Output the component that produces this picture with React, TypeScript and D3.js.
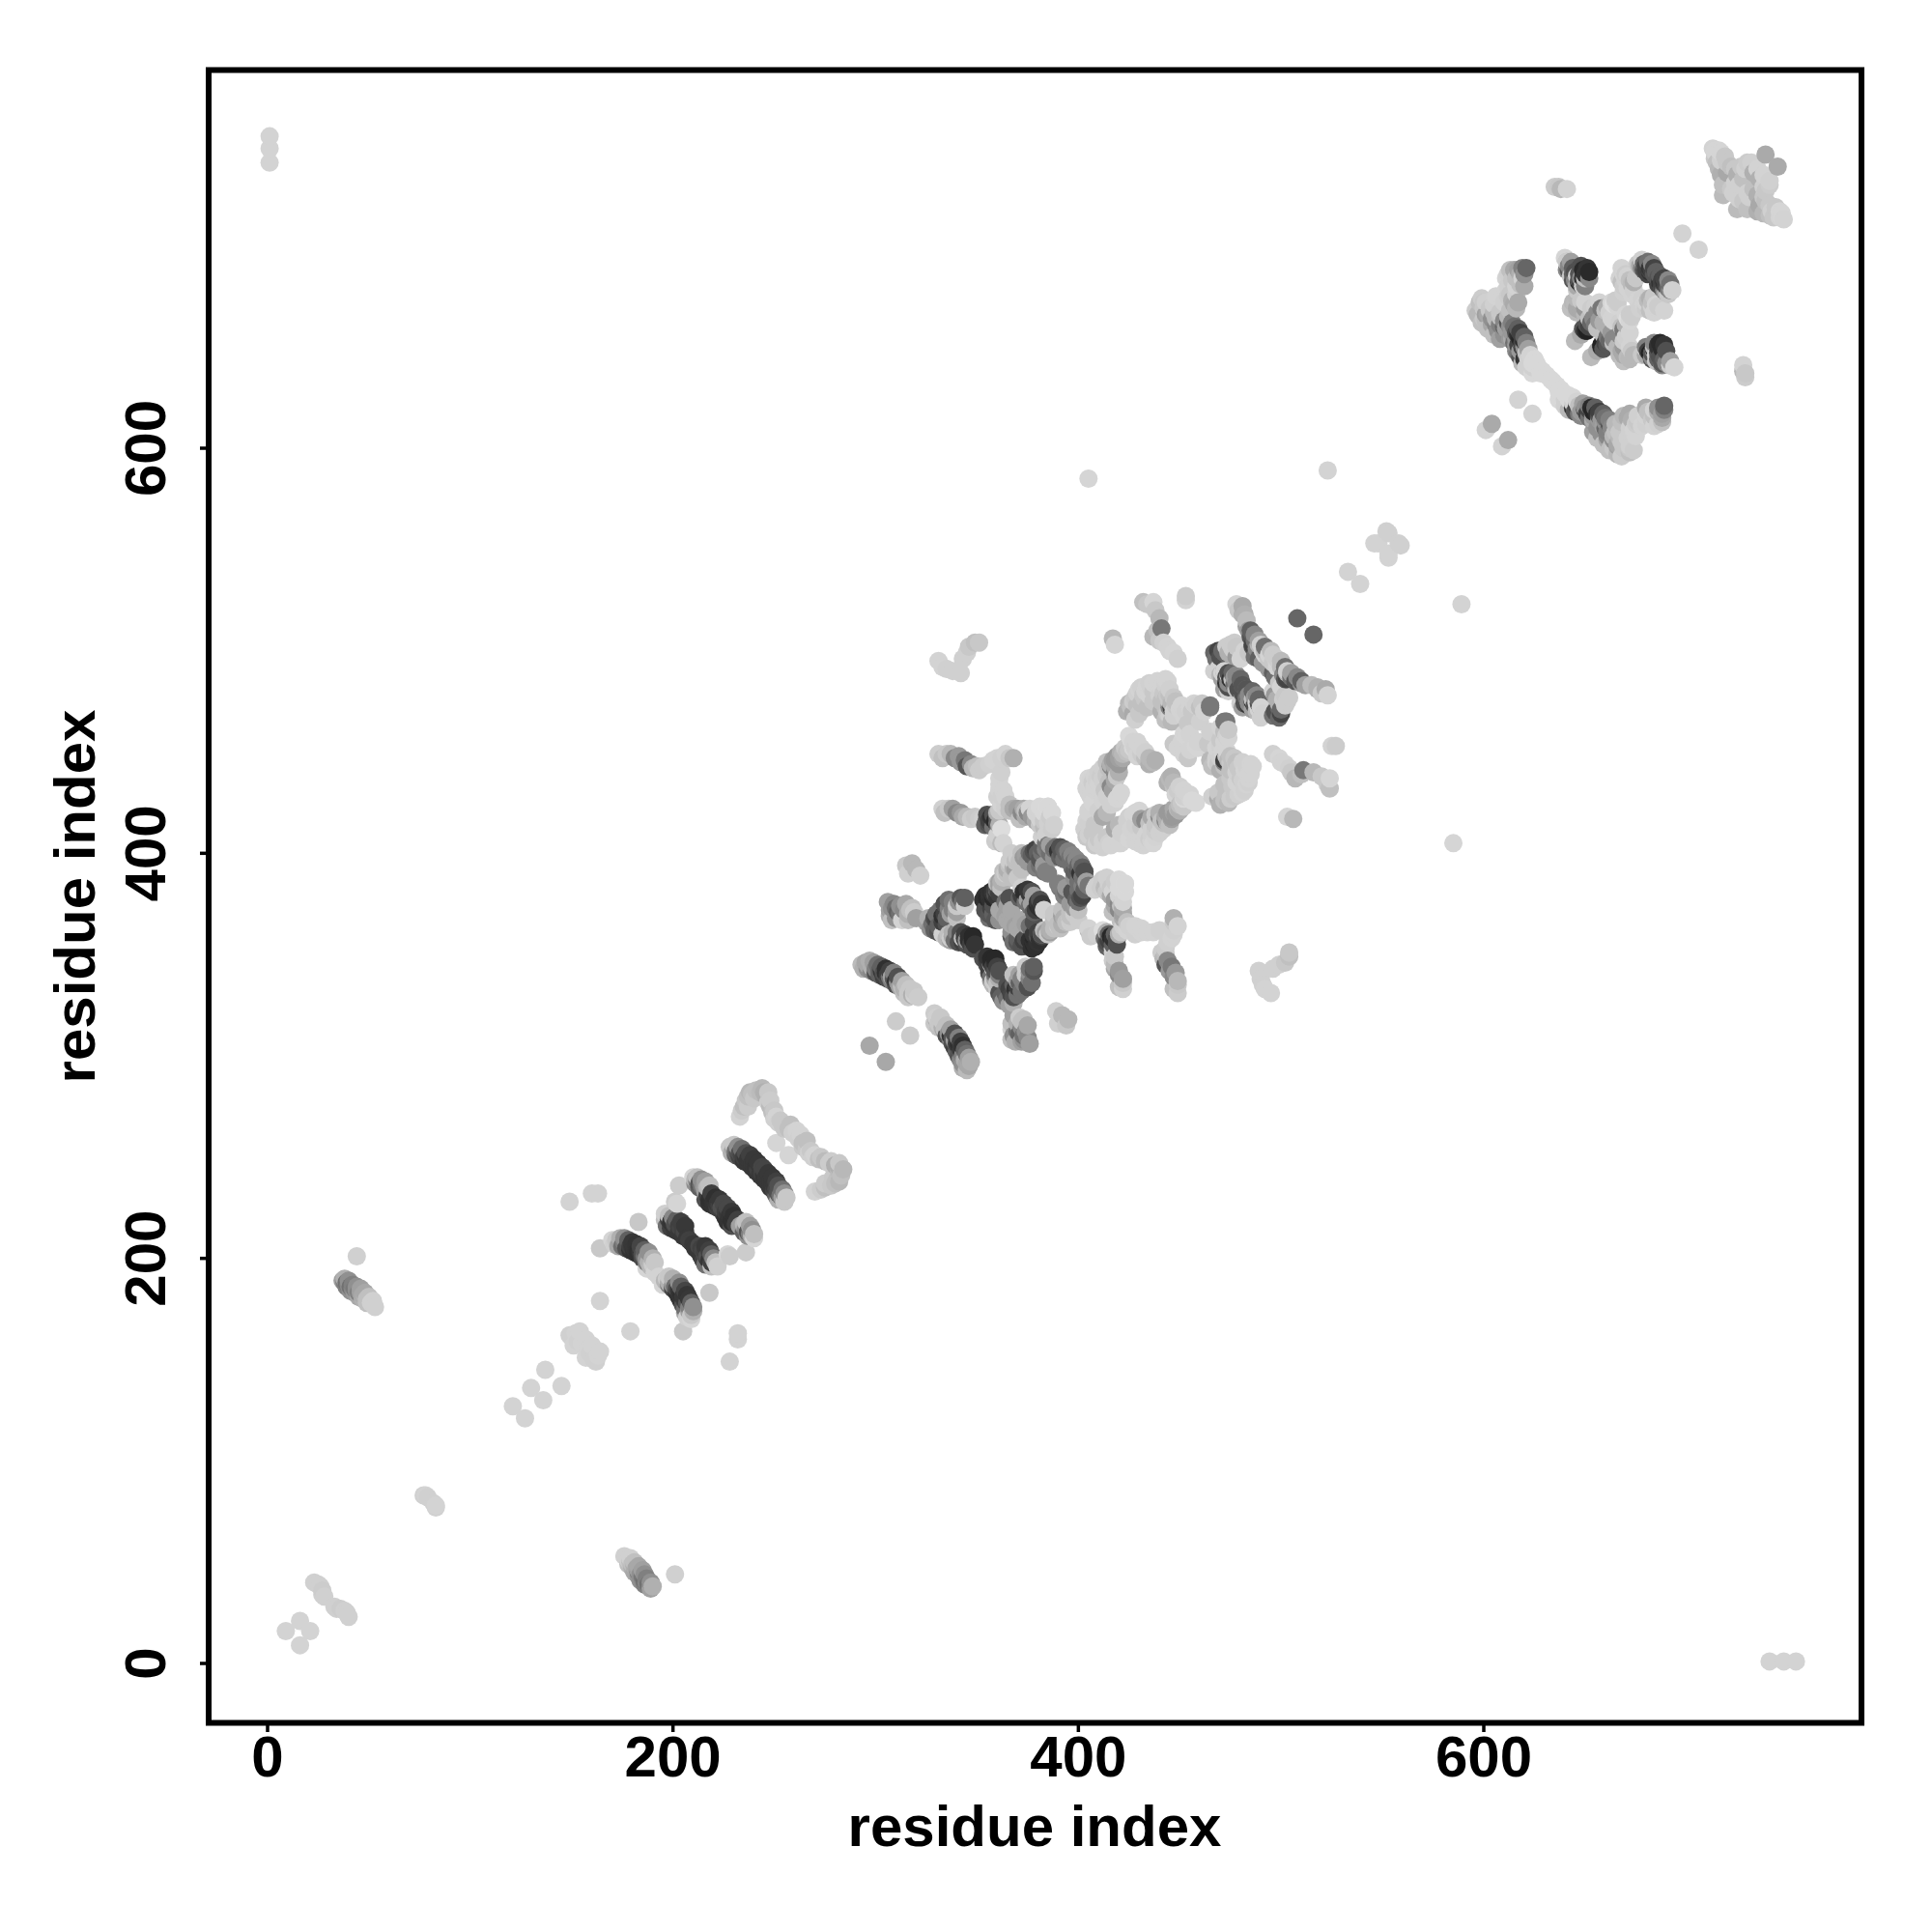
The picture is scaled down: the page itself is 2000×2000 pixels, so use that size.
import React from 'react';
import * as d3 from 'd3';

// Contact pairs [residue a, residue b, grey level]; the map is symmetric, so each is shown at (a,b) and (b,a).
const termini = [[1,741,0xd3],[1,748,0xd3],[1,754,0xd3]];
const nTerm = [[9,16,0xd3],[16,21,0xd3],[23,40,0xd0],[25,39,0xd0],[26,38,0xd0],[27,34,0xd0],[28,33,0xd0],[27,36,0xcc]];
const strandC = [[37,189,0xa0],[38,188,0x80],[39,188,0x70],[40,187,0x88],[41,186,0x70],[42,185,0x88],[43,185,0x78],[44,184,0x90],[45,183,0x80],[46,183,0xa0],[47,182,0xa8],[48,181,0xb0],[49,180,0xc0],[50,179,0xc0],[51,178,0xd0],[53,176,0xd0],[44,201,0xd0],[38,190,0xb0],[40,189,0x90],[42,187,0x80],[44,186,0x90],[46,185,0xa0],[48,183,0xa8],[50,181,0xc0],[52,179,0xd0],[39,186,0x80],[41,184,0x90],[43,183,0x98],[45,181,0xa8],[47,180,0xb0],[49,178,0xc0]];
const pair80 = [[77,83,0xd0],[79,82,0xd0],[78,83,0xd3]];
const sparseLow = [[121,127,0xd3],[130,136,0xd3],[137,145,0xd3],[149,228,0xd3],[160,232,0xd3],[163,232,0xd3],[164,205,0xc8],[164,179,0xd3],[150,161,0xd0],[152,163,0xd3],[153,159,0xd0],[155,158,0xd3],[151,157,0xd3],[183,218,0xc8],[149,162,0xd0],[154,164,0xd3],[157,160,0xd3]];
const strandF1 = [[170,209,0xd5],[172,209,0xc8],[174,208,0xa0],[176,208,0x80],[178,207,0x55],[179,206,0x40],[180,206,0x38],[181,205,0x38],[182,204,0x35],[183,204,0x30],[184,203,0x38],[185,202,0x50],[186,201,0x70],[187,200,0x95],[188,198,0xb0],[190,197,0xcc],[187,195,0xd5],[191,193,0xd3],[171,207,0xd0],[173,206,0xa8],[175,206,0x70],[177,205,0x50],[179,204,0x35],[181,203,0x33],[183,202,0x30],[185,200,0x48],[187,198,0x80],[189,196,0xb8],[174,210,0xb0],[176,210,0x90],[178,209,0x60],[180,208,0x38],[182,207,0x35],[184,206,0x45],[186,204,0x60],[188,203,0x90],[190,200,0xb0],[191,198,0xc8]];
const strandF2 = [[196,222,0xd0],[196,219,0xc0],[198,219,0x40],[199,218,0x35],[200,217,0x35],[201,217,0x50],[202,216,0x50],[203,216,0x40],[204,215,0x45],[205,214,0x40],[206,213,0x48],[207,210,0x38],[208,209,0x40],[201,228,0xcc],[202,227,0xd5],[203,236,0xcc],[198,221,0xc0],[200,220,0x88],[202,219,0x60],[204,218,0x40],[206,216,0x38],[197,216,0x70],[199,215,0x40],[201,214,0x38],[203,213,0x38],[205,211,0x38]];
const strandF3 = [[210,240,0xd5],[211,239,0xb8],[212,238,0x80],[213,237,0x55],[214,236,0x70],[215,236,0x90],[216,235,0xa0],[217,235,0xb8],[217,231,0x40],[218,229,0x30],[219,229,0x30],[220,228,0x33],[221,228,0x35],[222,227,0x38],[223,226,0x40],[224,225,0x50],[212,240,0xc0],[214,239,0x90],[216,238,0xa0],[218,236,0xc0],[219,232,0x40],[221,230,0x30],[223,229,0x38],[225,227,0x48],[211,237,0x90],[213,235,0x60],[216,233,0xa0],[216,229,0x50],[218,227,0x33],[220,226,0x33],[222,225,0x40]];
const strandF4 = [[228,255,0xc8],[230,254,0xa0],[231,253,0x70],[232,252,0x55],[233,252,0x50],[234,251,0x45],[235,250,0x40],[236,250,0x38],[237,249,0x38],[238,248,0x38],[239,247,0x38],[240,246,0x38],[241,245,0x35],[242,244,0x40],[229,252,0xb0],[231,251,0x60],[233,250,0x45],[235,248,0x38],[237,247,0x38],[239,245,0x38],[241,243,0x38],[230,256,0xc8],[232,255,0x90],[234,254,0x70],[236,252,0x50],[238,251,0x40],[240,249,0x38],[242,247,0x38],[244,245,0x45]];
const loopF5 = [[233,270,0xd3],[235,275,0xc0],[236,278,0xc8],[237,280,0xc0],[238,282,0xb8],[240,279,0xc8],[243,282,0xbb],[245,282,0xb0],[246,280,0xb0],[248,278,0xcc],[248,275,0xbb],[249,272,0xc0],[250,269,0xd0],[252,267,0xd0],[254,266,0xc8],[257,264,0xc0],[259,262,0xd0],[251,257,0xd5],[261,263,0xd3],[234,273,0xcc],[237,275,0xcc],[239,281,0xc0],[241,283,0xc0],[244,284,0xb8],[247,282,0xc8],[247,277,0xcc],[250,273,0xc8],[251,270,0xd3],[253,268,0xc8],[255,264,0xc8],[258,266,0xc0]];
const strandG1 = [[293,345,0xbb],[295,346,0xa8],[296,345,0xa8],[298,344,0xb0],[300,343,0x80],[302,342,0x60],[303,342,0x38],[304,341,0x50],[305,341,0x30],[306,340,0x40],[307,339,0x70],[308,339,0xa0],[309,338,0x55],[310,337,0x33],[311,336,0x90],[313,334,0xc0],[314,333,0xb0],[316,331,0xc8],[318,330,0xb0],[319,330,0xd0],[321,329,0xcc],[310,317,0xcc],[297,305,0xa8],[294,343,0xb0],[296,343,0x90],[298,342,0x88],[300,341,0x50],[302,340,0x60],[304,339,0x40],[306,338,0x50],[308,337,0x80],[310,335,0x50],[312,334,0xa0],[314,331,0xc0],[316,329,0xc8],[297,347,0xb0],[299,346,0xa0],[301,345,0x70],[303,344,0x60],[305,343,0x30],[307,342,0x40],[309,341,0x80],[311,339,0x50],[313,337,0xa0],[315,335,0xc0],[317,333,0xc8],[319,332,0xc8]];
const groupG2 = [[306,376,0xa0],[308,373,0x90],[309,375,0x88],[311,371,0x60],[313,367,0xd3],[315,375,0xa8],[317,372,0xc0],[319,371,0xcc],[320,368,0xa0],[308,367,0xc0],[315,394,0xc8],[318,395,0xb8],[316,390,0xd0],[320,392,0xb8],[322,389,0xd0],[307,372,0xa0],[310,373,0x70],[312,374,0x90],[314,372,0x88],[316,370,0xb0],[318,373,0xc0],[307,369,0xb0],[310,368,0x90],[312,370,0x70],[316,367,0xc0]];
const groupG3 = [[325,366,0xa0],[328,365,0x70],[330,367,0x45],[331,364,0x60],[332,372,0x70],[333,369,0x30],[335,368,0x60],[334,375,0x50],[336,373,0x80],[337,370,0xa0],[338,376,0x80],[340,368,0xc0],[340,374,0xc8],[342,378,0x55],[344,378,0x60],[344,374,0xcc],[327,363,0x90],[329,362,0x60],[331,361,0x50],[333,366,0x40],[335,365,0x50],[334,370,0x40],[336,371,0x60],[338,372,0x80],[340,371,0xa0],[330,370,0x70],[336,377,0x70],[341,376,0x90],[343,376,0x70],[329,368,0x50],[326,368,0xb0]];
const strandG4 = [[333,360,0xd0],[336,360,0xc0],[338,359,0xa8],[340,359,0x70],[342,359,0x50],[343,358,0xc0],[344,358,0x40],[345,357,0x90],[346,357,0x30],[348,357,0x28],[348,353,0x50],[337,358,0xcc],[335,358,0xb8],[337,357,0xa0],[339,357,0x70],[341,356,0x50],[343,356,0x40],[345,355,0x50],[347,355,0x40],[338,361,0xb0],[340,361,0x80],[342,361,0x50],[344,360,0x40],[346,359,0x30],[348,359,0x28],[349,355,0x35]];
const strand449 = [[331,449,0xcc],[335,449,0xc8],[339,447,0x88],[342,445,0x99],[345,443,0x55],[348,442,0xb8],[351,441,0xcc],[356,444,0xd0],[360,447,0xd3],[364,449,0xd3],[368,447,0xb0],[361,434,0xd3],[361,431,0xd3],[362,428,0xd0],[364,425,0xd0],[366,424,0xc0],[368,422,0xaa],[372,420,0x88],[333,447,0xc0],[337,449,0xb8],[341,448,0x99],[344,446,0x77],[347,444,0x88],[350,443,0xc0],[353,443,0xcc],[358,446,0xd3],[362,447,0xd0],[366,447,0xc8],[361,437,0xd3],[362,440,0xd0],[360,428,0xd0],[364,428,0xd3],[363,431,0xd3]];
const strand420 = [[333,422,0xd0],[336,422,0xc8],[340,420,0x88],[343,418,0xaa],[347,417,0xcc],[351,417,0xcc],[354,414,0x60],[356,416,0x40],[357,418,0x30],[358,419,0x50],[359,416,0x28],[360,415,0x60],[362,424,0xd3],[379,420,0xd3],[385,423,0xdd],[383,413,0xbb],[362,412,0xdd],[362,405,0xbb],[359,406,0xcc],[363,405,0xd3],[334,420,0xc0],[338,422,0xa0],[342,420,0x99],[345,418,0xbb],[349,418,0xc8],[353,417,0xd0],[355,419,0x50],[357,415,0x40],[358,417,0x30],[360,418,0x60],[361,421,0xc8],[361,414,0xb0],[364,422,0xd0],[366,421,0xc0],[370,422,0xa0],[374,421,0xc0],[376,422,0xd3],[381,423,0xd8],[383,420,0xd8],[381,417,0xd3],[360,409,0xd0],[355,417,0x60],[356,414,0x50],[358,413,0x70],[360,420,0xb0]];
const diamondCore = [[354,379,0x30],[356,380,0x33],[358,378,0x40],[360,378,0x38],[356,370,0x55],[357,373,0x40],[359,367,0x55],[363,370,0xa8],[364,369,0xa0],[374,380,0x2d],[376,380,0x38],[372,383,0xd0],[371,378,0x60],[375,377,0xa0],[353,377,0x30],[355,378,0x28],[357,381,0x30],[359,382,0x40],[361,380,0x40],[362,383,0xc0],[360,385,0xc8],[358,374,0x50],[354,372,0x50],[356,368,0x70],[358,370,0x60],[361,367,0x90],[361,372,0xa8],[365,367,0xa8],[366,366,0xa8],[372,379,0x40],[373,381,0x30],[375,382,0x38],[377,381,0x50],[378,379,0xa0],[374,376,0x70],[367,372,0xa8],[365,374,0xa0],[364,376,0x70],[366,378,0x50]];
const diamondEdgeLow = [[357,376,0x30],[358,378,0x28],[359,380,0x50],[360,382,0x88],[361,384,0xa0],[362,386,0xb0],[363,388,0xc0],[364,390,0xcc],[365,392,0xb0],[366,394,0xc0],[368,396,0xcc],[370,398,0xcc],[372,400,0xc0],[367,400,0xcc],[373,398,0x99],[356,378,0x30],[358,380,0x35],[360,382,0x50],[361,386,0xa0],[363,386,0xb0],[363,391,0xc0],[365,390,0xc0],[366,396,0xcc],[368,393,0xb0],[367,388,0xc0],[369,396,0xc0],[371,396,0xc0],[369,392,0xa0],[370,388,0xc8],[372,392,0xc0],[375,396,0x99],[374,399,0xa0]];
const diamondEdgeTop = [[379,402,0x44],[382,403,0x60],[384,405,0x77],[386,404,0xa0],[388,402,0x70],[390,401,0x33],[392,400,0x55],[394,400,0x66],[396,398,0x70],[381,397,0x55],[383,391,0x77],[385,404,0x77],[384,391,0x80],[385,390,0x80],[376,400,0x70],[377,399,0x60],[378,401,0x50],[380,400,0x60],[382,400,0x70],[384,402,0x80],[386,400,0x70],[388,398,0x90],[391,398,0x60],[393,397,0x70],[389,403,0x70],[391,403,0x50],[393,402,0x60],[395,401,0x80],[397,399,0x88],[379,393,0x80],[381,394,0x70],[383,394,0x99]];
const diamondRight = [[383,411,0xcc],[385,415,0xd0],[383,416,0xc8],[385,423,0xd8],[387,412,0xcc],[386,418,0xcc],[388,414,0xd0],[381,414,0xc8],[379,416,0xaa],[377,418,0x99],[375,420,0x88],[374,418,0xaa],[371,417,0xc0],[373,422,0xaa],[384,409,0xd0],[382,408,0xd0],[387,420,0xd8]];
const squareH = [[425,458,0xd8],[427,455,0xd3],[428,452,0xd0],[425,451,0xc8],[424,450,0xc0],[422,449,0xb8],[420,447,0xa0],[418,446,0x99],[416,444,0xb0],[415,442,0xc0],[413,441,0xd0],[411,438,0xcc],[409,436,0xd0],[407,435,0xd3],[405,434,0xd3],[405,430,0xd3],[412,418,0xa8],[405,421,0xd3],[406,412,0xd0],[404,408,0xc8],[405,420,0xd3],[421,430,0xd5],[419,427,0xd5],[416,424,0xd0],[420,428,0xd5],[416,433,0x88],[437,445,0xb8],[435,444,0xb0],[438,446,0xb0],[429,448,0xd3],[427,452,0xd8],[426,456,0xd8],[405,437,0xd5],[416,443,0x88],[414,438,0xc8],[412,436,0xd0],[408,433,0xd3],[407,435,0xcc]];
const squareHFill = [[423,452,0xc8],[421,450,0xb0],[419,448,0x99],[417,446,0xa0],[415,444,0xc0],[412,442,0xd0],[410,440,0xd0],[408,438,0xd3],[406,436,0xd3],[422,447,0xa8],[420,444,0x99],[418,443,0xa8],[416,441,0xc0],[414,439,0xc8],[412,437,0xd0],[410,434,0xd3],[408,431,0xd3],[406,428,0xd3],[404,432,0xd3],[429,455,0xd3],[431,452,0xd3],[433,450,0xd0],[435,447,0xb8],[433,447,0xc0],[431,449,0xcc],[417,431,0xa0],[415,435,0xc0],[413,431,0xc8],[414,428,0xd0],[412,426,0xd3],[418,425,0xd0],[418,436,0xa8],[419,438,0xc8],[420,440,0xb0],[418,440,0x88],[414,445,0xc0],[404,416,0xd3],[403,412,0xd0],[405,415,0xd0],[408,414,0xc8],[410,407,0xc8],[409,405,0xd0],[414,420,0xb8],[410,421,0xd0],[407,425,0xd5]];
const clusterUpperH = [[432,524,0xc0],[434,523,0xc8],[437,524,0xd5],[438,520,0xc8],[440,516,0xb8],[437,507,0xb8],[439,510,0xc0],[440,505,0xc8],[442,504,0xd0],[444,502,0xd3],[445,500,0xd3],[447,499,0xd5],[449,496,0xd0],[441,511,0x78],[453,527,0xcc],[453,525,0xd3],[417,506,0xb8],[418,503,0xd5]];
const clusterMidH = [[424,470,0xb0],[426,472,0xc0],[427,475,0xcc],[429,479,0xd0],[431,482,0xd0],[434,483,0xd3],[437,484,0xd3],[441,482,0xd3],[443,486,0xd3],[444,478,0xc8],[443,472,0xc0],[446,472,0x40],[445,468,0xd0],[447,470,0xd0],[450,471,0xd3],[453,470,0xd0],[456,470,0xc8],[460,472,0xc0],[462,470,0xd3],[465,473,0x78],[465,472,0x78],[457,474,0xd3],[460,465,0xd0],[454,464,0xc8],[446,465,0xb8],[445,472,0x80],[445,478,0xc0],[444,485,0xd3],[435,484,0xd0],[432,478,0xc8],[429,473,0xc0],[427,469,0xaa],[452,459,0xd5],[447,454,0xc8],[453,458,0xd5]];
const clusterMidFill = [[425,474,0xb8],[428,477,0xc8],[430,481,0xd3],[433,480,0xd3],[436,481,0xd0],[439,484,0xd3],[442,479,0xc8],[443,476,0xc0],[445,475,0xc8],[448,473,0xc8],[451,473,0xd3],[455,472,0xd3],[458,473,0xd0],[461,474,0xc8],[447,468,0xd0],[440,478,0xd0],[441,475,0xc0],[449,452,0xd3],[451,455,0xd3],[455,459,0xd3],[452,468,0xd3],[443,466,0xc0],[444,469,0xc8],[441,470,0xb0],[446,474,0xb8],[448,475,0xc0],[447,477,0xc8],[445,481,0xd0],[443,483,0xd0],[439,485,0xd3],[437,480,0xc8],[435,478,0xd3],[433,476,0xc8],[431,474,0xc0],[430,469,0xc8],[428,466,0xd0],[434,472,0xc0],[437,475,0xc8]];
const clusterI = [[478,523,0xd3],[481,522,0xaa],[482,518,0xb0],[483,515,0xbb],[484,510,0x99],[485,507,0x55],[487,505,0x70],[489,503,0xb8],[491,500,0xd3],[477,504,0xcc],[473,502,0xcc],[471,500,0x66],[469,500,0x44],[467,499,0x66],[467,490,0xd0],[470,488,0xb8],[473,487,0x50],[475,486,0x33],[477,487,0x99],[480,486,0x66],[471,489,0xd3],[473,484,0x33],[476,501,0xcc],[492,500,0xbb],[492,502,0x70],[486,502,0x55],[508,516,0x66]];
const clusterIFill = [[479,520,0xc8],[481,518,0xb0],[483,512,0xa0],[485,510,0x60],[487,508,0x88],[489,505,0xa0],[490,503,0xd0],[492,498,0xd3],[494,498,0xd3],[486,503,0x44],[488,501,0x88],[478,502,0xc8],[475,503,0xcc],[472,499,0x66],[470,497,0x50],[468,496,0x70],[474,499,0xb0],[476,498,0xb0],[478,497,0x99],[480,496,0xd3],[482,500,0xd3],[484,499,0xc8],[469,491,0xd0],[472,490,0xa0],[474,489,0x50],[476,489,0x66],[478,488,0x88],[481,483,0x70],[483,481,0x55],[471,486,0xa0],[474,484,0x88],[477,483,0x70],[479,481,0x50],[472,481,0xa0],[474,480,0xd0],[481,478,0xc0],[484,478,0x88],[486,476,0xc0],[488,474,0xd0],[490,472,0xd3],[482,474,0x50],[495,500,0xbb],[496,498,0xcc],[487,497,0x70],[489,496,0x60],[491,494,0x99],[494,496,0xc8]];
const strand340 = [[331,495,0xd3],[333,492,0xd3],[335,491,0xd0],[338,490,0xd0],[342,489,0xd0],[343,496,0xd0],[345,499,0xd0],[346,502,0xc8],[349,504,0xc0],[351,504,0xc8]];
const sparseMid = [[405,585,0xd5],[523,589,0xd3],[533,539,0xd3],[546,553,0xd3],[552,559,0xd0],[548,553,0xd3],[553,558,0xd0]];
const leftU = [[596,668,0xcc],[597,666,0xb8],[598,672,0xc0],[599,674,0xcc],[600,669,0xc8],[602,666,0xa8],[604,664,0x90],[606,664,0xb8],[608,661,0x80],[610,660,0x66],[612,662,0x55],[613,660,0x90],[614,658,0x99],[616,657,0x50],[617,656,0x30],[618,654,0x25],[619,652,0x44],[620,650,0x90],[617,647,0x77],[622,644,0xd0],[624,642,0xd8],[627,640,0xd8],[629,638,0xd8],[631,636,0xd8],[633,634,0xd8],[624,640,0xd0],[620,644,0x33],[618,648,0x99],[620,653,0x2a],[614,657,0x99],[607,658,0x90],[599,662,0xc0],[600,664,0xc8],[601,672,0xd0],[612,686,0xd0],[613,688,0xc0],[615,688,0xa8],[617,688,0xa0],[619,689,0x80],[621,689,0x66],[619,684,0xd3],[620,680,0xaa],[616,676,0xd0],[617,672,0xaa],[615,671,0xaa],[612,675,0xcc],[613,668,0xc0],[610,672,0xd0]];
const leftUFill = [[600,672,0xc8],[601,666,0xa0],[603,669,0xc8],[605,667,0xb8],[606,661,0x88],[608,665,0xc0],[610,663,0x88],[611,659,0xa0],[612,665,0xb8],[614,662,0x80],[615,660,0x70],[616,654,0x99],[617,659,0x60],[618,657,0x40],[620,655,0x60],[621,652,0x80],[622,649,0xa0],[621,647,0xc0],[623,646,0xd3],[625,644,0xd8],[614,654,0xaa],[616,651,0x99],[628,637,0xd8],[626,642,0xd8],[624,637,0xd8],[621,640,0xd0],[619,642,0xb8],[618,645,0x55],[621,646,0x44],[616,648,0x88],[617,651,0x44],[619,650,0x44],[613,654,0x99],[615,652,0x70],[610,656,0x90],[608,654,0xa0],[605,656,0xc0],[602,659,0xc0],[604,661,0xa8],[601,663,0xc0],[603,668,0xc8],[605,671,0xd0],[611,684,0xd3],[612,680,0xd0],[614,683,0xc8],[616,684,0xc0],[618,681,0xc0],[618,686,0xb0],[620,686,0x90],[616,680,0xd3],[613,676,0xc8],[611,678,0xd3],[609,674,0xd3],[614,673,0xb0],[616,669,0xb8],[608,667,0xc8],[606,675,0xd3]];
const middleU = [[640,694,0xd5],[641,692,0xc0],[642,690,0x88],[642,688,0x55],[644,686,0x60],[646,685,0xd5],[649,688,0x2a],[650,686,0x35],[647,683,0x55],[645,671,0xbb],[646,674,0xb8],[648,673,0xc8],[650,669,0x99],[653,669,0xcc],[653,662,0x66],[650,658,0x33],[658,669,0x77],[661,670,0xb0],[664,671,0xdd],[666,670,0xd5],[659,669,0x77],[666,672,0xcc],[655,661,0x77],[651,658,0x22],[650,672,0xd3],[646,667,0xbb],[645,653,0xbb],[651,686,0x33],[647,682,0x22],[641,692,0xcc],[646,680,0xaa],[678,693,0xd0],[678,692,0x88],[679,691,0x66],[680,690,0x44],[681,689,0x44],[682,688,0x44],[682,687,0x33],[681,686,0x44],[669,686,0xd3],[669,680,0xcc],[673,681,0xbb],[672,680,0xd3],[670,686,0xcc],[668,682,0xc0]];
const middleUFill = [[641,688,0x88],[643,692,0xa0],[644,689,0x60],[645,687,0x50],[647,686,0x55],[648,690,0x50],[648,684,0x88],[651,689,0x35],[652,687,0x2a],[646,678,0xc8],[644,672,0xb8],[643,669,0xc0],[646,669,0xaa],[648,668,0xaa],[650,666,0xb8],[652,664,0xc0],[651,661,0x55],[654,664,0x88],[652,660,0x44],[649,659,0x55],[656,667,0x88],[655,670,0xd0],[657,672,0xd3],[660,668,0xc0],[662,667,0xd0],[663,672,0xd5],[665,673,0xcc],[663,664,0xd3],[657,663,0x99],[659,662,0xb0],[656,659,0xc0],[648,656,0xaa],[649,680,0xd0],[650,684,0xc0],[652,684,0x88],[648,681,0x40],[649,684,0x30],[650,680,0x80],[644,683,0x55],[643,685,0xc8],[645,683,0x88],[676,691,0xc8],[677,690,0xb0],[678,689,0x88],[679,688,0x55],[680,688,0x44],[682,689,0x35],[683,688,0x40],[684,686,0x55],[683,691,0x88],[681,692,0x70],[684,689,0x44],[685,687,0x60],[670,683,0xd0],[671,685,0xd3],[668,689,0xd3],[667,684,0xd3],[672,683,0xc0],[674,682,0xb0],[675,684,0xc8],[671,679,0xd3],[674,678,0xd0],[669,677,0xd0],[673,676,0xd3]];
const sparseHigh = [[617,624,0xd3],[604,612,0xaa],[601,609,0xd3],[635,729,0xcc],[637,729,0xc8],[638,728,0xb8],[641,728,0xd3],[698,706,0xd3]];
const topRight = [[713,748,0xd3],[714,746,0xd3],[714,743,0xc8],[715,741,0xc0],[716,738,0xb8],[717,735,0xb0],[718,730,0xc0],[718,725,0xbb],[720,741,0xc8],[722,739,0xc0],[724,738,0xc8],[725,735,0xb0],[727,739,0xc8],[729,738,0xd0],[730,741,0xcc],[732,741,0xd0],[733,736,0xb0],[735,738,0xd3],[739,745,0xaa],[724,731,0xd0],[722,728,0xc8],[726,730,0xd0],[714,747,0xd5],[716,747,0xd5],[717,746,0xd5],[719,744,0xc8],[728,733,0xc0],[723,726,0xd0],[717,742,0xd0],[720,736,0xa8]];

const tickValues = [0, 200, 400, 600];
const axisTitle = 'residue index';

const contacts = [termini, nTerm, strandC, pair80, sparseLow, strandF1, strandF2, strandF3, strandF4, loopF5, strandG1, groupG2, groupG3, strandG4, strand449, strand420, diamondCore, diamondEdgeLow, diamondEdgeTop, diamondRight, squareH, squareHFill, clusterUpperH, clusterMidH, clusterMidFill, clusterI, clusterIFill, strand340, sparseMid, leftU, leftUFill, middleU, middleUFill, sparseHigh, topRight];

export default function App() {
  const x = d3.scaleLinear().domain([0, 600]).range([277, 1536]);
  const y = d3.scaleLinear().domain([0, 600]).range([1722, 464]);
  const grey = d3.scaleLinear<string>().domain([0, 255]).range(['#000000', '#ffffff']);
  const points = contacts
    .flat()
    .flatMap(([a, b, s]) => [{ px: a, py: b, s }, { px: b, py: a, s }])
    .sort((p, q) => d3.ascending(p.px, q.px) || d3.ascending(p.py, q.py));
  const font = { fontFamily: '"Liberation Sans", Arial, sans-serif', fontWeight: 700, fill: '#000' };
  return (
    <svg width={2000} height={2000} style={{ position: 'absolute', left: 0, top: 0, background: '#fff' }}>
      {points.map((p, i) => (
        <circle key={i} cx={x(p.px)} cy={y(p.py)} r={9.5} fill={grey(p.s)} />
      ))}
      <rect x={216} y={72.5} width={1711} height={1711} fill="none" stroke="#000" strokeWidth={6} />
      {tickValues.map((t) => (
        <g key={t}>
          <line x1={x(t)} x2={x(t)} y1={1786} y2={1793} stroke="#000" strokeWidth={3.5} />
          <text x={x(t)} y={1839} textAnchor="middle" fontSize={60} {...font}>{t}</text>
          <line x1={207} x2={213} y1={y(t)} y2={y(t)} stroke="#000" strokeWidth={3.5} />
          <text transform={`translate(171,${y(t)}) rotate(-90)`} textAnchor="middle" fontSize={60} {...font}>{t}</text>
        </g>
      ))}
      <text x={1071} y={1911} textAnchor="middle" fontSize={60} {...font}>{axisTitle}</text>
      <text transform="translate(98,928) rotate(-90)" textAnchor="middle" fontSize={60} {...font}>{axisTitle}</text>
    </svg>
  );
}
